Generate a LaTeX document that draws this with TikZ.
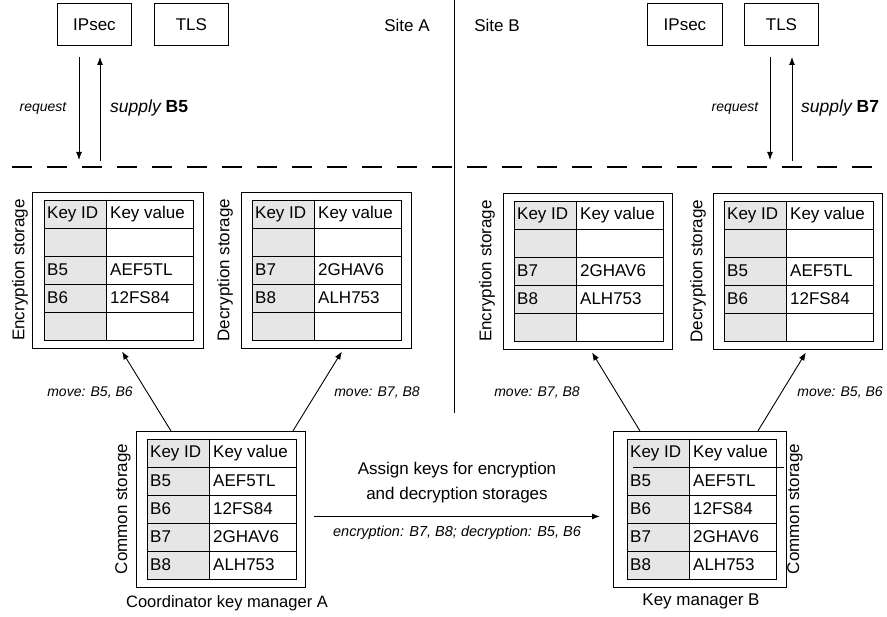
\documentclass[tikz,border=0pt]{standalone}
\usepackage{fontspec}
\setmainfont{Liberation Sans}
\usetikzlibrary{arrows.meta,calc}
\definecolor{keygray}{HTML}{E6E6E6}
% #1 name, #2 x, #3 y, #4 rows, #5 header-line start, #6 header-line end
\newcommand\ktab[6]{%
  \begin{scope}[shift={(#2,#3)}]
    \fill[keygray] (0,0) rectangle (62,140);
    \draw[tline] (0,0) rectangle (149,140);
    \draw[tline] (62,0) -- (62,140);
    \draw[tline] (#5,28) -- (#6,28);
    \foreach \r in {2,...,4} \draw[tline] (0,28*\r) -- (149,28*\r);
    \foreach \id/\val [count=\i from 0] in {#4} {
      \node[cell] (#1-id-\i) at (3,14+28*\i) {\id};
      \node[cell] (#1-val-\i) at (66,14+28*\i) {\val};
    }
  \end{scope}}
\begin{document}
\begin{tikzpicture}[x=1pt,y=-1pt,
  every node/.style={font=\fontsize{17}{19}\selectfont},
  tline/.style={line width=0.8pt},
  cell/.style={anchor=west,inner sep=0pt},
  box/.style={draw,line width=0.9pt,inner sep=0pt,anchor=north west},
  arr/.style={line width=0.9pt,-{Latex[length=8pt,width=6pt]}},
  lab/.style={font=\fontsize{14}{16}\selectfont\itshape},
  vlab/.style={rotate=90,font=\fontsize{17}{19}\selectfont}]
\useasboundingbox (0,0) rectangle (887,617);

% top boxes
\node[box,minimum width=74pt,minimum height=42pt] (ipsecA) at (57,3) {IPsec};
\node[box,minimum width=74pt,minimum height=42pt] (tlsA) at (154,3) {TLS};
\node[box,minimum width=75pt,minimum height=42pt] (ipsecB) at (647,3) {IPsec};
\node[box,minimum width=74pt,minimum height=42pt] (tlsB) at (744,3) {TLS};
\node (siteA) at (407,25) {Site A};
\node (siteB) at (497,25) {Site B};

% separators
\coordinate (vT) at (454,0);
\coordinate (vB) at (454,413);
\draw[line width=1pt] (vT) -- (vB);
\coordinate (dashL) at (12,167);
\coordinate (dashR) at (887,167);
\draw[line width=1.2pt,dash pattern=on 20pt off 15pt] (dashL) -- (dashR);

% request / supply
\coordinate (rqA0) at (79,57);  \coordinate (rqA1) at (79,160);
\coordinate (spA0) at (100,161); \coordinate (spA1) at (100,57);
\draw[arr] (rqA0) -- (rqA1);
\draw[arr] (spA0) -- (spA1);
\node[lab] (rqAl) at (43,108) {request};
\node[anchor=west,inner sep=0pt] (spAl) at (110,108) {\fontsize{17.5}{19}\selectfont\itshape supply \upshape\bfseries B5};
\coordinate (rqB0) at (770,57);  \coordinate (rqB1) at (770,160);
\coordinate (spB0) at (792,161); \coordinate (spB1) at (792,57);
\draw[arr] (rqB0) -- (rqB1);
\draw[arr] (spB0) -- (spB1);
\node[lab] (rqBl) at (735,108) {request};
\node[anchor=west,inner sep=0pt] (spBl) at (801,108) {\fontsize{17.5}{19}\selectfont\itshape supply \upshape\bfseries B7};

% storage boxes
\node[box,minimum width=171pt,minimum height=156pt] (encA) at (32,192) {};
\node[box,minimum width=170pt,minimum height=156pt] (decA) at (241,192) {};
\node[box,minimum width=169pt,minimum height=156pt] (encB) at (503,193) {};
\node[box,minimum width=169pt,minimum height=156pt] (decB) at (713,193) {};
\node[box,minimum width=169pt,minimum height=156pt] (comA) at (136,431) {};
\node[box,minimum width=173pt,minimum height=156pt] (comB) at (613,431) {};

\ktab{tEA}{44}{200}{Key ID/Key value,{}/{},B5/AEF5TL,B6/12FS84,{}/{}}{0}{149}
\ktab{tDA}{252}{200}{Key ID/Key value,{}/{},B7/2GHAV6,B8/ALH753,{}/{}}{0}{149}
\ktab{tEB}{514}{201}{Key ID/Key value,{}/{},B7/2GHAV6,B8/ALH753,{}/{}}{0}{149}
\ktab{tDB}{724}{201}{Key ID/Key value,{}/{},B5/AEF5TL,B6/12FS84,{}/{}}{0}{149}
\ktab{tCA}{147}{439}{Key ID/Key value,B5/AEF5TL,B6/12FS84,B7/2GHAV6,B8/ALH753}{0}{149}
\ktab{tCB}{627}{439}{Key ID/Key value,B5/AEF5TL,B6/12FS84,B7/2GHAV6,B8/ALH753}{6}{157}

\node[vlab] (lEA) at (20,270) {Encryption storage};
\node[vlab] (lDA) at (225,270) {Decryption storage};
\node[vlab] (lEB) at (487,271) {Encryption storage};
\node[vlab] (lDB) at (698,271) {Decryption storage};
\node[vlab] (lCA) at (123,509) {Common storage};
\node[vlab] (lCB) at (795,509) {Common storage};

% moves
\draw[arr,shorten >=3pt] ([xshift=35pt]comA.north west) -- ([xshift=2.5pt]encA.south);
\draw[arr,shorten >=3pt] ([xshift=-13pt]comA.north east) -- ([xshift=17pt]decA.south);
\draw[arr,shorten >=3pt] ([xshift=27pt]comB.north west) -- ([xshift=2.5pt]encB.south);
\draw[arr,shorten >=3pt] ([xshift=-29pt]comB.north east) -- ([xshift=9.5pt]decB.south);
\node[lab] (mA1) at (90,393) {move: B5, B6};
\node[lab] (mA2) at (377,393) {move: B7, B8};
\node[lab] (mB1) at (537,393) {move: B7, B8};
\node[lab] (mB2) at (840,393) {move: B5, B6};

% assignment
\draw[arr] ([xshift=8pt,yshift=-7pt]comA.east) -- ([xshift=-13pt,yshift=-7pt]comB.west);
\node (as1) at (457,470) {Assign keys for encryption};
\node (as2) at (457,495) {and decryption storages};
\node[lab,font=\fontsize{14.5}{16}\selectfont\itshape] (as3) at (457,533) {encryption: B7, B8; decryption: B5, B6};

\node[font=\fontsize{16.5}{18}\selectfont] (capA) at (227,603) {Coordinator key manager A};
\node (capB) at (701,601) {Key manager B};
\end{tikzpicture}
\end{document}
